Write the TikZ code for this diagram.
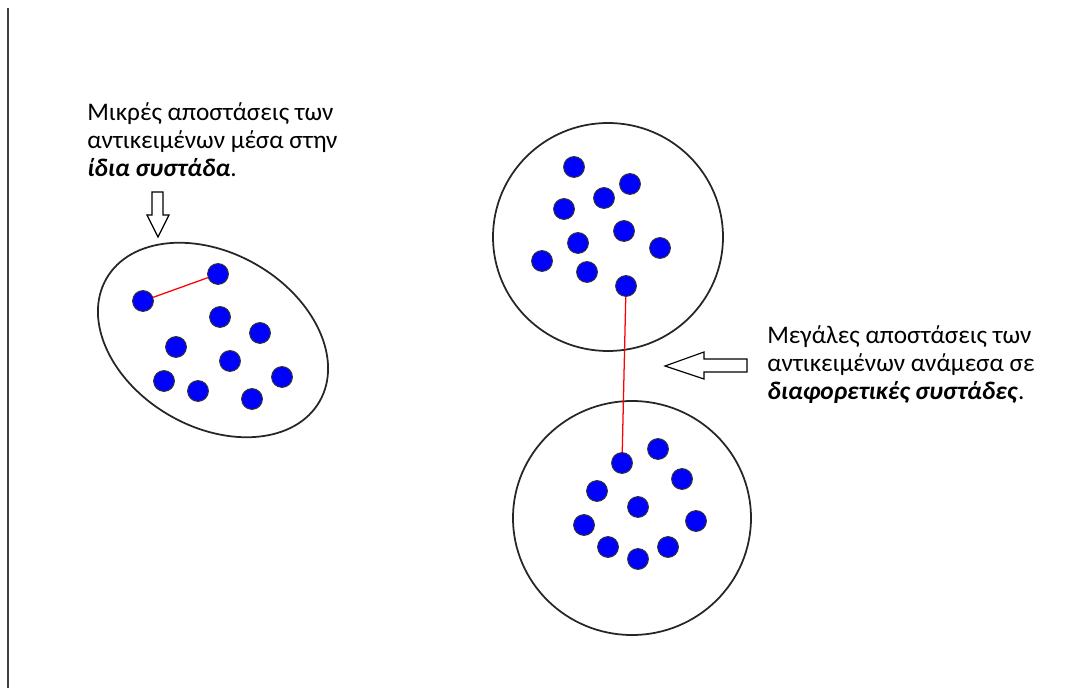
\documentclass[tikz,border=0pt]{standalone}
\usepackage{fontspec}
\setmainfont{Carlito}
\usepackage{tikz}
\usetikzlibrary{positioning}

\tikzset{
	dot/.style={circle, fill=blue, draw=black!80, line width=0.7pt, minimum size=0.52cm, inner sep=0pt},
	cluster/.style={draw=black!85, line width=1.25pt},
	gap/.style={draw=red, line width=0.9pt},
	blockarrow/.style={draw=black, line width=0.8pt, fill=white},
	note/.style={anchor=base west, align=left, inner sep=0pt, font=\fontsize{18}{20}\selectfont},
}

\begin{document}
\begin{tikzpicture}[x=0.025cm, y=0.025cm]
	\useasboundingbox (0,0) rectangle (1079,-688);
	%
	% margin line
	\draw[line width=1.4pt, black!75] (8,-8) -- (8,-688);
	
	% clusters
	\draw[cluster, rotate around={-30:(213,-340)}] (213,-340) ellipse (123 and 87);
	\draw[cluster] (608,-237) ellipse (115 and 114);
	\draw[cluster] (632,-518) ellipse (119 and 117);
	%
	% points of the left cluster
	\foreach \n/\px/\py in {1/143/301,2/218/274,3/220/317,4/260/333,5/176/347,6/230/361,7/164/381,8/198/391,9/282/377,10/252/399}
	\node[dot] (l\n) at (\px,-\py) {};
	% points of the upper cluster
	\foreach \n/\px/\py in {1/574/167,2/630/184,3/604/198,4/564/209,5/624/231,6/578/243,7/660/248,8/542/261,9/587/272,10/626/286}
	\node[dot] (u\n) at (\px,-\py) {};
	% points of the lower cluster
	\foreach \n/\px/\py in {1/622/463,2/658/449,3/682/479,4/597/491,5/638/507,6/584/525,7/696/521,8/608/547,9/668/547,10/638/559}
	\node[dot] (d\n) at (\px,-\py) {};
	%
	% distances
	\draw[gap] (l1) -- (l2);
	\draw[gap] (u10) -- (d1);
	
	% labels (anchored at the last baseline)
	\node[note] (intra) at (87,-177) {Μικρές αποστάσεις των\\αντικειμένων μέσα στην\\\textbf{\textit{ίδια συστάδα}}.};
	\node[note] (inter) at (767,-400) {Μεγάλες αποστάσεις των\\αντικειμένων ανάμεσα σε\\\textbf{\textit{διαφορετικές συστάδες}}.};
	%
	% hollow arrows
	\draw[blockarrow] (152,-192) -- (163,-192) -- (163,-215) -- (169,-215) -- (158,-237) -- (147,-215) -- (152,-215) -- cycle;
	\draw[blockarrow] (747,-359) -- (747,-372) -- (704,-372) -- (704,-379) -- (665,-366) -- (704,-352) -- (704,-359) -- cycle;
\end{tikzpicture}
\end{document}
